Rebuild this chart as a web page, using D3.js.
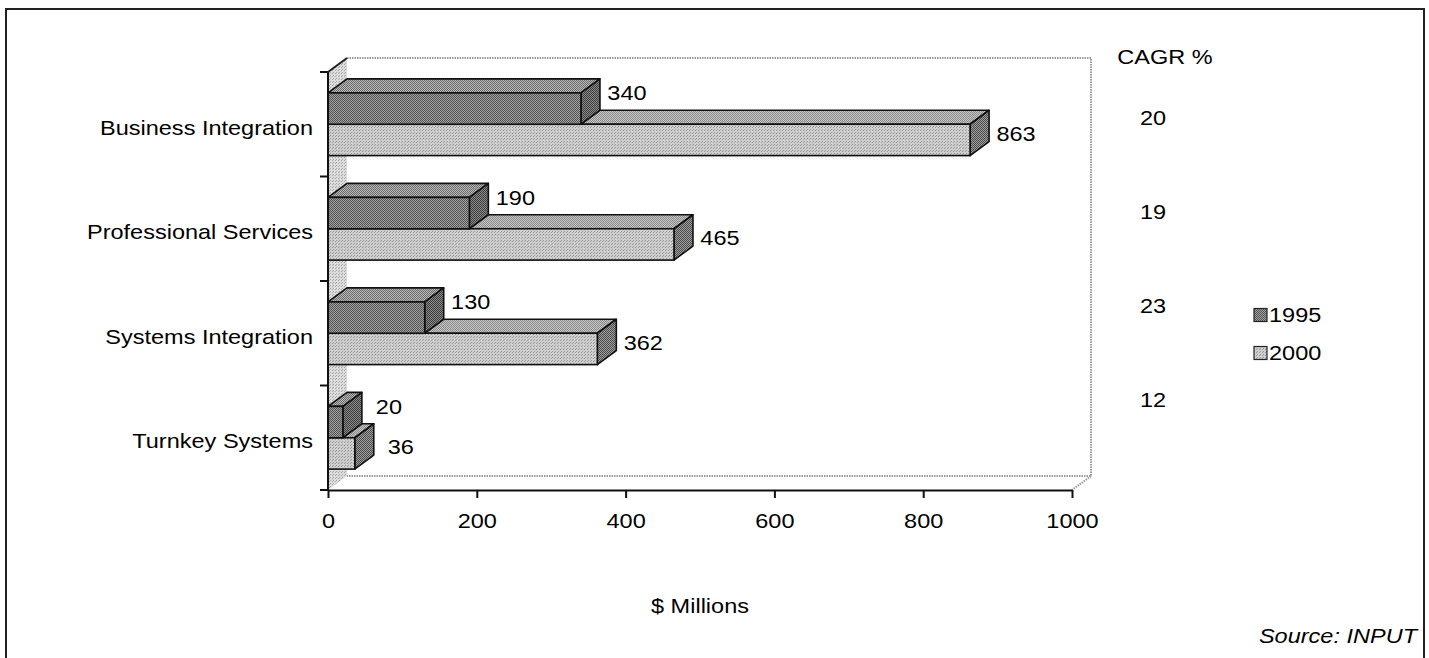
<!DOCTYPE html>
<html>
<head>
<meta charset="utf-8">
<script src="https://cdn.jsdelivr.net/npm/d3@7"></script>
<style>
  html, body { margin: 0; padding: 0; background: #fff; }
  svg { display: block; }
  text { font-family: "Liberation Sans", Arial, Helvetica, sans-serif; fill: #000; }
</style>
</head>
<body>
<svg id="chart" width="1429" height="658"></svg>
<script>
// Revenue by service segment, 1995 vs 2000 ($ millions)
const categories = ["Business Integration", "Professional Services", "Systems Integration", "Turnkey Systems"];
const values1995 = [340, 190, 130, 20];
const values2000 = [863, 465, 362, 36];
const cagrValues = [20, 19, 23, 12];
const xTickValues = [0, 200, 400, 600, 800, 1000];
const seriesNames = ["1995", "2000"];

const svg = d3.select("#chart");
const W = 1429, H = 658;
const FONT = 21, STRETCH = 1.12;

// 3D depth offset
const DX = 19, DY = -14;

const x = d3.scaleLinear().domain([0, 1000]).range([328, 1072]);
const y = d3.scaleBand().domain(categories).range([72, 490]).padding(0);
const barH = y.bandwidth() * 0.3;
const cagrY = d3.scalePoint().domain(categories).range([118, 400]);

// textures
const defs = svg.append("defs");
function checker(id, a, b) {
  const p = defs.append("pattern").attr("id", id).attr("width", 2).attr("height", 2)
    .attr("patternUnits", "userSpaceOnUse");
  p.append("rect").attr("width", 2).attr("height", 2).attr("fill", b);
  p.append("rect").attr("width", 1).attr("height", 1).attr("fill", a);
  p.append("rect").attr("x", 1).attr("y", 1).attr("width", 1).attr("height", 1).attr("fill", a);
}
function stipple(id, base, dot) {
  const p = defs.append("pattern").attr("id", id).attr("width", 3).attr("height", 3)
    .attr("patternUnits", "userSpaceOnUse");
  p.append("rect").attr("width", 3).attr("height", 3).attr("fill", base);
  p.append("rect").attr("x", 0).attr("y", 0).attr("width", 1).attr("height", 1).attr("fill", dot);
  p.append("rect").attr("x", 2).attr("y", 1).attr("width", 1).attr("height", 1).attr("fill", dot);
}
checker("front95", "#555555", "#a0a0a0");
checker("top95", "#6c6c6c", "#b8b8b8");
checker("side95", "#3c3c3c", "#8c8c8c");
stipple("front00", "#cecece", "#9a9a9a");
checker("top00", "#8a8a8a", "#c6c6c6");
checker("side00", "#4a4a4a", "#a0a0a0");
stipple("wall", "#dcdcdc", "#a8a8a8");

const fills = [
  { front: "url(#front95)", top: "url(#top95)", side: "url(#side95)" },
  { front: "url(#front00)", top: "url(#top00)", side: "url(#side00)" }
];

function stretchedText(parent, tx, ty, str, anchor, extra) {
  const g = parent.append("g").attr("transform", `translate(${tx},${ty}) scale(${STRETCH},1)`);
  const t = g.append("text").attr("x", 0).attr("y", 0).attr("dy", "0.35em")
    .attr("text-anchor", anchor).attr("font-size", FONT).text(str);
  if (extra) extra(t);
  return t;
}

// outer frame
svg.append("path")
  .attr("d", `M6,${H} L6,9 L1424,9 L1424,${H}`)
  .attr("fill", "none").attr("stroke", "#222").attr("stroke-width", 2);

// walls
const x0 = x(0), x1 = x(1000), yTop = y.range()[0], yBot = y.range()[1];
svg.append("path")
  .attr("d", `M${x0},${yTop} L${x0 + DX},${yTop + DY} L${x0 + DX},${yBot + DY} L${x0},${yBot} Z`)
  .attr("fill", "url(#wall)");
svg.append("path")
  .attr("d", `M${x0 + DX},${yTop + DY} L${x1 + DX},${yTop + DY} L${x1 + DX},${yBot + DY} L${x0 + DX},${yBot + DY} M${x1 + DX},${yBot + DY} L${x1},${yBot}`)
  .attr("fill", "none").attr("stroke", "#9a9a9a").attr("stroke-width", 2)
  .attr("stroke-dasharray", "1.5 1");
svg.append("path")
  .attr("d", `M${x0},${yTop} L${x0 + DX},${yTop + DY}`)
  .attr("stroke", "#222").attr("stroke-width", 2);

// bars: 2000 first so the 1995 bar sits over its top face
const barData = [];
categories.forEach((c, i) => {
  const gy = y(c) + y.bandwidth() / 2 - barH;
  barData.push({ cat: c, s: 1, v: values2000[i], yf: gy + barH });
  barData.push({ cat: c, s: 0, v: values1995[i], yf: gy });
});

const bars = svg.append("g").selectAll("g").data(barData).join("g");
bars.append("path") // top face
  .attr("d", d => {
    const a = x(0), b = x(d.v), t = d.yf;
    return `M${a},${t} L${a + DX},${t + DY} L${b + DX},${t + DY} L${b},${t} Z`;
  })
  .attr("fill", d => fills[d.s].top).attr("stroke", "#111").attr("stroke-width", 1.6)
  .attr("stroke-linejoin", "round");
bars.append("path") // side face
  .attr("d", d => {
    const b = x(d.v), t = d.yf;
    return `M${b},${t} L${b + DX},${t + DY} L${b + DX},${t + barH + DY} L${b},${t + barH} Z`;
  })
  .attr("fill", d => fills[d.s].side).attr("stroke", "#111").attr("stroke-width", 1.6)
  .attr("stroke-linejoin", "round");
bars.append("rect") // front face
  .attr("x", x(0)).attr("y", d => d.yf)
  .attr("width", d => x(d.v) - x(0)).attr("height", barH)
  .attr("fill", d => fills[d.s].front).attr("stroke", "#111").attr("stroke-width", 1.6);

// value labels
barData.forEach(d => {
  stretchedText(svg, x(d.v) + 46, d.yf + (d.s === 0 ? 0 : 9), String(d.v), "middle");
});

// left axis with category boundary ticks
const leftAxis = svg.append("g");
leftAxis.append("line").attr("x1", x0).attr("x2", x0).attr("y1", yTop).attr("y2", yBot)
  .attr("stroke", "#111").attr("stroke-width", 2);
const bounds = categories.map(c => y(c)).concat([yBot]);
leftAxis.selectAll("line.tick").data(bounds).join("line").attr("class", "tick")
  .attr("x1", x0 - 8).attr("x2", x0).attr("y1", d => d).attr("y2", d => d)
  .attr("stroke", "#111").attr("stroke-width", 2);

// category labels
categories.forEach(c => stretchedText(svg, 313, y(c) + y.bandwidth() / 2 + 3, c, "end"));

// bottom axis
const ax = svg.append("g").attr("transform", `translate(0,${yBot})`)
  .call(d3.axisBottom(x).tickValues(xTickValues).tickFormat(d3.format("d"))
    .tickSize(8).tickPadding(15.5).tickSizeOuter(0));
ax.select(".domain").attr("stroke", "#111").attr("stroke-width", 2.2);
ax.selectAll(".tick line").attr("stroke", "#111").attr("stroke-width", 2);
ax.selectAll(".tick text").attr("font-size", FONT).attr("fill", "#000")
  .attr("font-family", "Liberation Sans, Arial, sans-serif")
  .attr("transform", `scale(${STRETCH},1)`);

// axis title
stretchedText(svg, 700, 606, "$ Millions", "middle");

// CAGR column
stretchedText(svg, 1165, 57, "CAGR %", "middle");
categories.forEach((c, i) => stretchedText(svg, 1153, cagrY(c), String(cagrValues[i]), "middle"));

// legend
const legY = d3.scalePoint().domain(seriesNames).range([315, 353]);
seriesNames.forEach((s, i) => {
  svg.append("rect").attr("x", 1254).attr("y", legY(s) - 6.5).attr("width", 13).attr("height", 13)
    .attr("fill", fills[i].front).attr("stroke", "#222").attr("stroke-width", 1.2);
  stretchedText(svg, 1269, legY(s), s, "start");
});

// source note
stretchedText(svg, 1417, 636, "Source: INPUT", "end", t => t.attr("font-style", "italic"));
</script>
</body>
</html>
